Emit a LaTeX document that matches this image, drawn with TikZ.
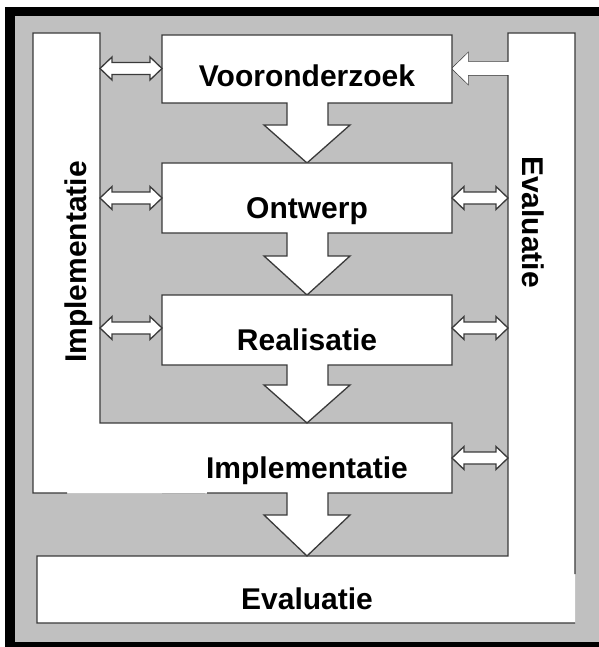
\documentclass[tikz,border=0pt]{standalone}
\usepackage{fontspec}
\setmainfont{Liberation Sans}
\usetikzlibrary{calc}
\definecolor{panelgray}{RGB}{192,192,192}
\definecolor{edgegray}{RGB}{58,58,58}

\begin{document}
\begin{tikzpicture}[x=1pt,y=-1pt,
  shapeline/.style={draw=edgegray,line width=1.3pt,line join=miter},
  phaselabel/.style={anchor=base,inner sep=0pt,font=\fontsize{30}{36}\selectfont\bfseries},
  twoway/.style={shapeline,fill=white,
    to path={-- ++(12,-11.5) -- ++(0,5.5) -- ($(\tikztotarget)+(-12,-6)$) -- ++(0,-5.5) -- (\tikztotarget)
      -- ++(-12,11.5) -- ++(0,-5.5) -- ($(\tikztostart)+(12,6)$) -- ++(0,5.5) -- cycle}}]
\useasboundingbox (0,0) rectangle (598,647);
\fill[black] (5,7) rectangle (604,652);
\fill[panelgray] (15,16) rectangle (604,642);

\fill[white] (37,556) -- (508,556) -- (508,33) -- (575,33) -- (575,623) -- (37,623) -- cycle;
\draw[shapeline] (575,574) -- (575,33) -- (508,33) -- (508,62) -- (468,62) -- (468,53) -- (452,68.5) -- (468,84) -- (468,75) -- (508,75) -- (508,556) -- (37,556) -- (37,623) -- (575,623);
\fill[white] (452,68.5) -- (468,53) -- (468,62) -- (509,62) -- (509,75) -- (468,75) -- (468,84) -- cycle;

\fill[white] (33,33) -- (100,33) -- (100,423) -- (452,423) -- (452,493) -- (328,493) -- (328,515) -- (350,515) -- (307,556) -- (264,515) -- (287,515) -- (287,493) -- (33,493) -- cycle;
\draw[shapeline] (67,493) -- (33,493) -- (33,33) -- (100,33) -- (100,423) -- (452,423) -- (452,493) -- (328,493) -- (328,515) -- (350,515) -- (307,556) -- (264,515) -- (287,515) -- (287,493) -- (207,493);
\draw[gray!60,line width=1pt] (162,493) -- (205,493);

\draw[shapeline,fill=white] (162,35) -- (452,35) -- (452,103) -- (328,103) -- (328,125) -- (350,125) -- (307,163) -- (264,125) -- (287,125) -- (287,103) -- (162,103) -- cycle;
\draw[shapeline,fill=white] (162,163) -- (452,163) -- (452,233) -- (328,233) -- (328,256) -- (350,256) -- (307,295) -- (264,256) -- (287,256) -- (287,233) -- (162,233) -- cycle;
\draw[shapeline,fill=white] (162,295) -- (452,295) -- (452,365) -- (328,365) -- (328,385) -- (350,385) -- (307,423) -- (264,385) -- (287,385) -- (287,365) -- (162,365) -- cycle;

\node[phaselabel] (voor) at (307,87) {Vooronderzoek};
\node[phaselabel] (ontw) at (307,218) {Ontwerp};
\node[phaselabel] (real) at (307,350) {Realisatie};
\node[phaselabel] (impl) at (307,478) {Implementatie};
\node[phaselabel] (eval) at (307,609) {Evaluatie};
\node[phaselabel,rotate=90] (implside) at (86,262) {Implementatie};
\node[phaselabel,rotate=-90] (evalside) at (522,222) {Evaluatie};

\coordinate (implbar-1) at (100,68.5);
\coordinate (implbar-2) at (100,198);
\coordinate (implbar-3) at (100,328);
\coordinate (voor-w) at (162,68.5);
\coordinate (ontw-w) at (162,198);
\coordinate (ontw-e) at (452,198);
\coordinate (real-w) at (162,328);
\coordinate (real-e) at (452,328);
\coordinate (impl-e) at (452,458);
\coordinate (evalbar-2) at (508,198);
\coordinate (evalbar-3) at (508,328);
\coordinate (evalbar-4) at (508,458);

\draw[twoway] (implbar-1) to (voor-w);
\draw[twoway] (implbar-2) to (ontw-w);
\draw[twoway] (implbar-3) to (real-w);
\draw[twoway] (ontw-e) to (evalbar-2);
\draw[twoway] (real-e) to (evalbar-3);
\draw[twoway] (impl-e) to (evalbar-4);
\end{tikzpicture}
\end{document}
